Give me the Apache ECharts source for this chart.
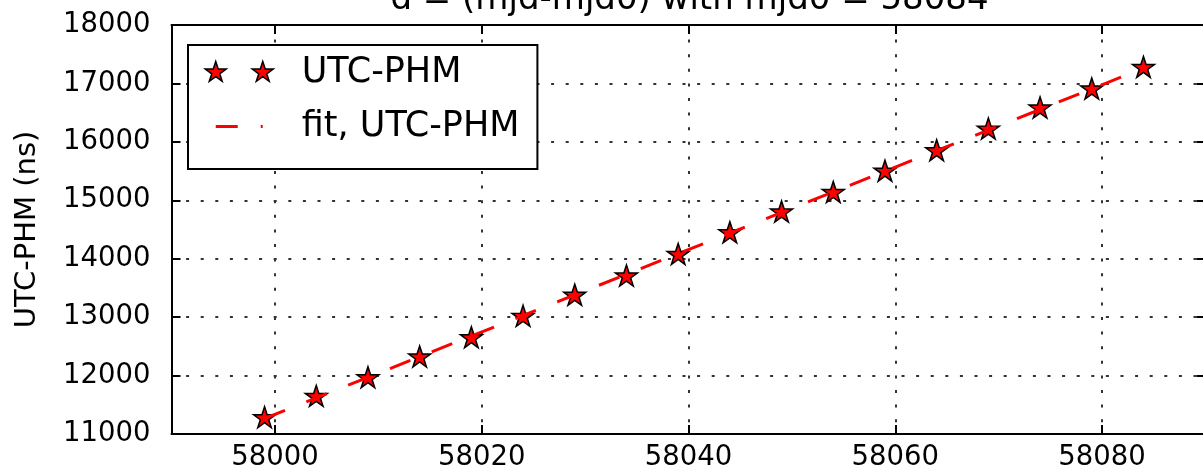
<!DOCTYPE html>
<html>
<head>
<meta charset="utf-8">
<script src="https://cdn.jsdelivr.net/npm/echarts@6/dist/echarts.min.js"></script>
<style>
html,body{margin:0;padding:0;background:#fff;}
#chart{width:1203px;height:470px;}
</style>
</head>
<body>
<div id="chart"></div>
<script>
// ---- data ----
const mjd = [57999, 58004, 58009, 58014, 58019, 58024, 58029, 58034, 58039,
             58044, 58049, 58054, 58059, 58064, 58069, 58074, 58079, 58084];
const utcPhm = [11270, 11635, 11955, 12310, 12640, 13005, 13365, 13695, 14065,
                14435, 14790, 15125, 15490, 15840, 16210, 16570, 16895, 17265];
const fitMjd = [57999, 58084];
const fitUtcPhm = [11265, 17260];
const xTicks = [58000, 58020, 58040, 58060, 58080];
const yTicks = [11000, 12000, 13000, 14000, 15000, 16000, 17000, 18000];
const titleText = 'd = (mjd-mjd0) with mjd0 = 58084';
const seriesNames = ['UTC-PHM', 'fit, UTC-PHM'];
const yAxisTitle = 'UTC-PHM (ns)';

// ---- styling helpers ----
function starPath(cx, cy, r) {
  const ri = r * 0.381966;
  let d = '';
  for (let k = 0; k < 10; k++) {
    const a = k * Math.PI / 5;
    const rr = (k % 2 === 0) ? r : ri;
    const x = cx + rr * Math.sin(a);
    const y = cy - rr * Math.cos(a);
    d += (k === 0 ? 'M' : 'L') + x.toFixed(2) + ' ' + y.toFixed(2) + ' ';
  }
  return d + 'Z ';
}
const FONT = 'DejaVu Sans';
const markerPath = 'path://' + starPath(0, 0, 100);
const legendStars = 'path://M0 0 M68 22 ' + starPath(10.5, 11, 11) + starPath(57.5, 11, 11);
const legendDash = 'path://M0 0 M68 22 M10.5 9.5 L32.5 9.5 L32.5 12.5 L10.5 12.5 Z M55.5 9.5 L57.5 9.5 L57.5 12.5 L55.5 12.5 Z';

const scatterData = mjd.map((m, i) => [m, utcPhm[i]]);
const fitData = fitMjd.map((m, i) => [m, fitUtcPhm[i]]);

const axisLineStyle = {color: '#000', width: 2};
const gridDots = {color: '#333', width: 2, type: [3, 11.6]};

const chart = echarts.init(document.getElementById('chart'), null, {renderer: 'canvas'});
chart.setOption({
  animation: false,
  backgroundColor: '#fff',
  title: {
    text: titleText,
    left: 689.5,
    textAlign: 'center',
    top: -17,
    padding: 0,
    textStyle: {fontFamily: FONT, fontSize: 34, fontWeight: 'normal', color: '#000'}
  },
  grid: {left: 171.5, top: 25, width: 1034, height: 409, containLabel: false, outerBoundsMode: 'none'},
  legend: {
    orient: 'vertical',
    left: 188,
    top: 45,
    align: 'left',
    padding: [10, 18, 25, 16.5],
    itemGap: 19,
    itemWidth: 68,
    itemHeight: 22,
    selectedMode: false,
    borderColor: '#000',
    borderWidth: 2,
    backgroundColor: '#fff',
    textStyle: {fontFamily: FONT, fontSize: 35, lineHeight: 34, color: '#000', padding: [0, 0, 0, 23.5]},
    data: [
      {name: seriesNames[0], icon: legendStars,
       itemStyle: {color: '#ff0000', borderColor: '#000', borderWidth: 1.5}},
      {name: seriesNames[1], icon: legendDash,
       itemStyle: {color: '#ff0000', borderWidth: 0}}
    ]
  },
  xAxis: [{
    type: 'value', min: 57990, max: 58090, position: 'bottom',
    axisLine: {show: true, onZero: false, lineStyle: axisLineStyle},
    axisTick: {show: true, inside: true, length: 9, customValues: xTicks, lineStyle: axisLineStyle},
    axisLabel: {show: true, customValues: xTicks, margin: 10, color: '#000', fontSize: 27.5,
                fontFamily: FONT, formatter: v => String(v)},
    splitLine: {show: true, lineStyle: gridDots}
  }, {
    type: 'value', min: 57990, max: 58090, position: 'top',
    axisLine: {show: true, onZero: false, lineStyle: axisLineStyle},
    axisTick: {show: true, inside: true, length: 9, customValues: xTicks, lineStyle: axisLineStyle},
    axisLabel: {show: false},
    splitLine: {show: false}
  }],
  yAxis: [{
    type: 'value', min: yTicks[0], max: yTicks[yTicks.length - 1], interval: 1000, position: 'left',
    name: yAxisTitle, nameLocation: 'middle', nameRotate: 90, nameGap: 130,
    nameTextStyle: {fontFamily: FONT, fontSize: 29, color: '#000'},
    axisLine: {show: true, onZero: false, lineStyle: axisLineStyle},
    axisTick: {show: true, inside: true, length: 9, lineStyle: axisLineStyle},
    axisLabel: {show: true, margin: 21, color: '#000', fontSize: 27.5, fontFamily: FONT,
                formatter: v => String(v), padding: [0, 0, 3, 0]},
    splitLine: {show: true, lineStyle: gridDots}
  }, {
    type: 'value', min: yTicks[0], max: yTicks[yTicks.length - 1], interval: 1000, position: 'right',
    axisLine: {show: true, onZero: false, lineStyle: axisLineStyle},
    axisTick: {show: true, inside: true, length: 9, lineStyle: axisLineStyle},
    axisLabel: {show: false},
    splitLine: {show: false}
  }],
  series: [{
    name: seriesNames[0],
    type: 'scatter',
    xAxisIndex: 0, yAxisIndex: 0,
    data: scatterData,
    symbol: markerPath,
    symbolSize: [22, 21],
    symbolOffset: [0, -1],
    symbolKeepAspect: false,
    itemStyle: {color: '#ff0000', borderColor: '#000', borderWidth: 1.5, opacity: 1},
    z: 3
  }, {
    name: seriesNames[1],
    type: 'line',
    xAxisIndex: 0, yAxisIndex: 0,
    data: fitData,
    symbol: 'none',
    showSymbol: false,
    lineStyle: {color: '#ff0000', width: 3, type: [22, 23], cap: 'butt'},
    itemStyle: {color: '#ff0000'},
    z: 4
  }]
});
</script>
</body>
</html>
